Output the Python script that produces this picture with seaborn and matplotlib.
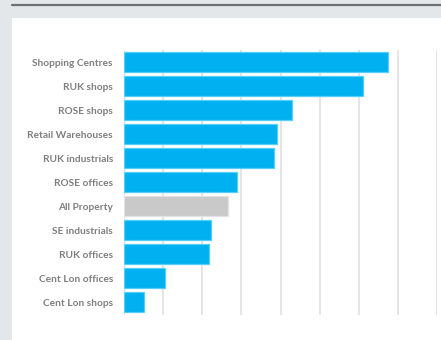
import matplotlib
matplotlib.use("Agg")
import matplotlib.pyplot as plt
from matplotlib.patches import Rectangle
from matplotlib.lines import Line2D
import seaborn as sns
import pandas as pd

# Sector returns (relative units), sorted from highest to lowest
categories = ["Shopping Centres", "RUK shops", "ROSE shops", "Retail Warehouses",
              "RUK industrials", "ROSE offices", "All Property", "SE industrials",
              "RUK offices", "Cent Lon offices", "Cent Lon shops"]
values = [6.75, 6.12, 4.29, 3.90, 3.84, 2.88, 2.66, 2.23, 2.16, 1.05, 0.51]
highlight = "All Property"

sns.set_theme(style="white")
plt.rcParams["font.family"] = ["Lato", "DejaVu Sans"]

df = pd.DataFrame({"sector": categories, "value": values})
blue, grey = "#00b0f0", "#c9c9c9"
palette = {c: (grey if c == highlight else blue) for c in categories}
edges = {c: ("#e2e2e2" if c == highlight else "#55cff7") for c in categories}

fig = plt.figure(figsize=(4.41, 3.40), dpi=100)
fig.patch.set_facecolor("#e4e7ea")
W, H = 441, 340
fig.add_artist(Rectangle((12 / W, 0), 1 - 12 / W, 1 - 18 / H,
                         transform=fig.transFigure, facecolor="white",
                         edgecolor="none", zorder=0))
fig.add_artist(Line2D([12 / W, 1], [1 - 5 / H, 1 - 5 / H],
                      transform=fig.transFigure, color="#6b7075", lw=1.6))

ax = fig.add_axes([124 / W, 1 - 315 / H, (437 - 124) / W, (315 - 50) / H])
ax.set_facecolor("none")
sns.barplot(data=df, x="value", y="sector", hue="sector", palette=palette,
            order=categories, orient="h", width=0.82, legend=False,
            saturation=1, linewidth=0.9, ax=ax, zorder=3)
for patch, cat in zip(ax.patches, categories):
    patch.set_edgecolor(edges[cat])

ax.set_xlim(0, 8)
ax.set_ylim(10.54, -0.5)
ax.set_xticks(range(0, 9))
ax.xaxis.grid(True, color="#e3e3e3", lw=1.3, zorder=0)
ax.set_axisbelow(True)
ax.tick_params(axis="x", labelbottom=False, length=0)
ax.tick_params(axis="y", length=0, pad=8)
for lbl in ax.get_yticklabels():
    lbl.set_fontsize(7.3)
    lbl.set_fontweight("bold")
    lbl.set_color("#7f7f7f")
ax.set_xlabel("")
ax.set_ylabel("")
for s in ax.spines.values():
    s.set_visible(False)

fig.savefig("out.png", dpi=100, facecolor=fig.get_facecolor())
